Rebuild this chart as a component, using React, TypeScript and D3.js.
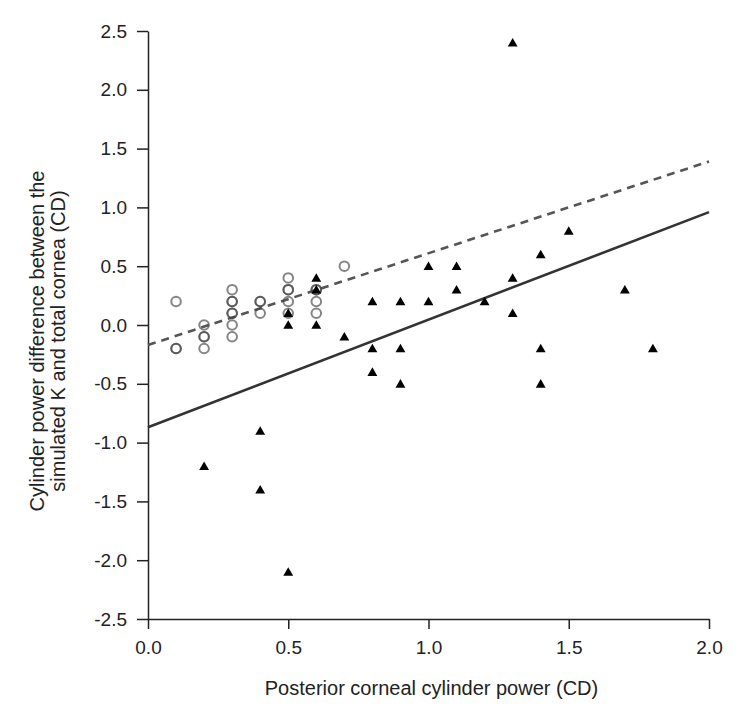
import * as d3 from 'd3';
import React, { useRef, useEffect } from 'react';

// open circles: [x, y]
const circleX = [0.1, 0.1, 0.1, 0.2, 0.2, 0.2, 0.2, 0.3, 0.3, 0.3, 0.3, 0.3, 0.3, 0.3, 0.4, 0.4, 0.4, 0.5, 0.5, 0.5, 0.5, 0.5, 0.6, 0.6, 0.6, 0.6, 0.7];
const circleY = [0.2, -0.2, -0.2, 0.0, -0.1, -0.1, -0.2, 0.3, 0.2, 0.2, 0.1, 0.1, 0.0, -0.1, 0.2, 0.2, 0.1, 0.4, 0.3, 0.3, 0.2, 0.1, 0.3, 0.3, 0.2, 0.1, 0.5];

// filled triangles
const triX = [0.2, 0.4, 0.4, 0.5, 0.5, 0.5, 0.6, 0.6, 0.6, 0.7, 0.8, 0.8, 0.8, 0.9, 0.9, 0.9, 1.0, 1.0, 1.1, 1.1, 1.2, 1.3, 1.3, 1.3, 1.4, 1.4, 1.4, 1.5, 1.7, 1.8];
const triY = [-1.2, -0.9, -1.4, 0.1, 0.0, -2.1, 0.4, 0.3, 0.0, -0.1, 0.2, -0.2, -0.4, 0.2, -0.2, -0.5, 0.5, 0.2, 0.5, 0.3, 0.2, 2.4, 0.4, 0.1, 0.6, -0.2, -0.5, 0.8, 0.3, -0.2];

// regression lines [intercept, slope]
const dashedFit = [-0.17, 0.78];
const solidFit = [-0.87, 0.915];

const xTicks = [0, 0.5, 1, 1.5, 2];
const yTicks = [-2.5, -2, -1.5, -1, -0.5, 0, 0.5, 1, 1.5, 2, 2.5];

const W = 749, H = 714;
const m = { left: 148, top: 31, right: 40, bottom: 95 };

export default function App() {
  const ref = useRef(null);

  useEffect(() => {
    const svg = d3.select(ref.current);
    svg.selectAll('*').remove();

    const x = d3.scaleLinear().domain([0, 2]).range([m.left, W - m.right]);
    const y = d3.scaleLinear().domain([-2.5, 2.5]).range([H - m.bottom, m.top]);
    const font = 'Liberation Sans, Arial, Helvetica, sans-serif';
    const fmt = (d) => d.toFixed(1);  // plain hyphen for negatives

    const gx = svg.append('g')
      .attr('transform', `translate(0,${H - m.bottom})`)
      .call(d3.axisBottom(x).tickValues(xTicks).tickFormat(fmt).tickSize(10).tickSizeOuter(0).tickPadding(12));
    const gy = svg.append('g')
      .attr('transform', `translate(${m.left},0)`)
      .call(d3.axisLeft(y).tickValues(yTicks).tickFormat(fmt).tickSize(11).tickSizeOuter(0).tickPadding(10));

    [gx, gy].forEach(g => {
      g.selectAll('path, line').attr('stroke', '#222').attr('stroke-width', 1.5);
      g.selectAll('text').attr('fill', '#222').style('font-size', '19px').style('font-family', font);
    });

    // fit lines
    const line = d3.line().x(d => x(d[0])).y(d => y(d[1]));
    const fitPts = (f) => [[0, f[0]], [2, f[0] + 2 * f[1]]];
    svg.append('path').attr('d', line(fitPts(solidFit)))
      .attr('stroke', '#333').attr('stroke-width', 2.6).attr('fill', 'none');
    svg.append('path').attr('d', line(fitPts(dashedFit)))
      .attr('stroke', '#555').attr('stroke-width', 2.6).attr('fill', 'none')
      .attr('stroke-dasharray', '8,6');

    // circles
    svg.append('g').selectAll('circle').data(circleX).enter().append('circle')
      .attr('cx', d => x(d))
      .attr('cy', (d, i) => y(circleY[i]))
      .attr('r', 4.8)
      .attr('fill', 'none')
      .attr('stroke', '#444')
      .attr('stroke-opacity', 0.65)
      .attr('stroke-width', 2);

    // triangles
    const tri = d3.symbol().type(d3.symbolTriangle).size(42);
    svg.append('g').selectAll('path').data(triX).enter().append('path')
      .attr('d', tri)
      .attr('transform', (d, i) => `translate(${x(d)},${y(triY[i]) + 1})`)
      .attr('fill', '#000');

    svg.append('text')
      .attr('x', (m.left + W - m.right) / 2 + 3).attr('y', 695)
      .attr('text-anchor', 'middle')
      .style('font-family', font).style('font-size', '20px').attr('fill', '#222')
      .text('Posterior corneal cylinder power (CD)');

    const yt = svg.append('text')
      .attr('transform', 'translate(0,341) rotate(-90)')
      .attr('text-anchor', 'middle')
      .style('font-family', font).style('font-size', '20px').attr('fill', '#222');
    yt.append('tspan').attr('x', 0).attr('y', 44).text('Cylinder power difference between the');
    yt.append('tspan').attr('x', 0).attr('y', 65).text('simulated K and total cornea (CD)');
  }, []);

  return (
    <svg ref={ref} width={W} height={H} style={{ display: 'block', margin: '-8px' }}></svg>
  );
}
